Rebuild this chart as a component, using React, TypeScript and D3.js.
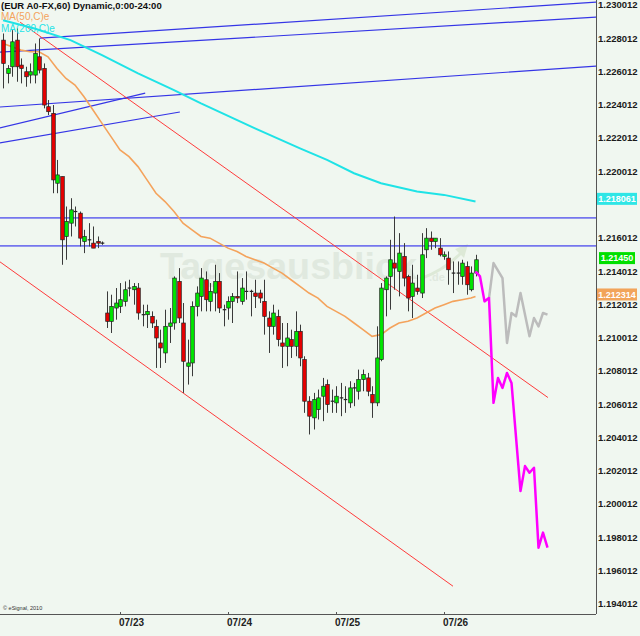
import React from 'react';
import * as d3 from 'd3';

const W = 640;
const H = 636;

// Hourly candles (index 0 = first visible bar)
const opens = [1.2279,1.2259,1.2263,1.2279,1.2264,1.2260,1.2258,1.2258,1.2269,1.2262,1.2239,1.2235,1.2193,1.2197,1.2161,1.2169,1.2176,1.2175,1.2158,1.2159,1.2157,1.2158,1.2157,1.2115,1.2110,1.2118,1.2119,1.2122,1.2130,1.2129,1.2130,1.2114,1.2114,1.2113,1.2107,1.2097,1.2091,1.2107,1.2109,1.2134,1.2109,1.2083,1.2085,1.2119,1.2125,1.2135,1.2122,1.2127,1.2134,1.2117,1.2118,1.2122,1.2125,1.2122,1.2128,1.2128,1.2127,1.2127,1.2122,1.2112,1.2107,1.2113,1.2097,1.2095,1.2099,1.2095,1.2104,1.2087,1.2062,1.2052,1.2057,1.2065,1.2072,1.2062,1.2061,1.2064,1.2063,1.2061,1.2070,1.2068,1.2075,1.2076,1.2066,1.2061,1.2087,1.2129,1.2137,1.2145,1.2140,1.2149,1.2137,1.2125,1.2130,1.2127,1.2153,1.2160,1.2158,1.2154,1.2149,1.2148,1.2139,1.2139,1.2137,1.2143,1.2129,1.2139];
const highs = [1.2283,1.2264,1.2285,1.2286,1.2268,1.2263,1.2265,1.2277,1.2280,1.2265,1.2243,1.2240,1.2207,1.2197,1.2179,1.2184,1.2179,1.2176,1.2165,1.2169,1.2167,1.2161,1.2158,1.2128,1.2126,1.2130,1.2133,1.2134,1.2135,1.2133,1.2133,1.2120,1.2120,1.2116,1.2111,1.2105,1.2117,1.2118,1.2137,1.2142,1.2121,1.2099,1.2122,1.2131,1.2142,1.2140,1.2133,1.2144,1.2139,1.2120,1.2125,1.2127,1.2140,1.2136,1.2140,1.2129,1.2135,1.2129,1.2135,1.2116,1.2120,1.2117,1.2109,1.2109,1.2105,1.2116,1.2108,1.2089,1.2065,1.2067,1.2069,1.2076,1.2075,1.2069,1.2071,1.2073,1.2071,1.2074,1.2073,1.2081,1.2081,1.2079,1.2071,1.2107,1.2133,1.2137,1.2159,1.2173,1.2163,1.2157,1.2138,1.2144,1.2138,1.2163,1.2166,1.2164,1.2160,1.2160,1.2152,1.2152,1.2146,1.2146,1.2147,1.2146,1.2143,1.2150];
const lows = [1.2250,1.2253,1.2257,1.2254,1.2253,1.2251,1.2253,1.2253,1.2259,1.2238,1.2234,1.2187,1.2187,1.2144,1.2147,1.2161,1.2167,1.2155,1.2151,1.2155,1.2154,1.2154,1.2156,1.2106,1.2103,1.2111,1.2115,1.2119,1.2125,1.2120,1.2111,1.2107,1.2106,1.2106,1.2082,1.2082,1.2085,1.2097,1.2105,1.2109,1.2067,1.2072,1.2077,1.2113,1.2116,1.2116,1.2116,1.2116,1.2115,1.2107,1.2111,1.2109,1.2121,1.2120,1.2123,1.2113,1.2118,1.2121,1.2102,1.2091,1.2102,1.2095,1.2082,1.2083,1.2088,1.2089,1.2083,1.2055,1.2042,1.2045,1.2051,1.2050,1.2055,1.2055,1.2055,1.2053,1.2055,1.2058,1.2059,1.2063,1.2068,1.2065,1.2052,1.2059,1.2086,1.2113,1.2117,1.2129,1.2125,1.2131,1.2116,1.2112,1.2126,1.2124,1.2148,1.2153,1.2154,1.2149,1.2147,1.2132,1.2127,1.2132,1.2132,1.2126,1.2128,1.2137];
const closes = [1.2265,1.2262,1.2278,1.2263,1.2262,1.2257,1.2260,1.2271,1.2261,1.2240,1.2236,1.2195,1.2198,1.2159,1.2170,1.2177,1.2176,1.2160,1.2161,1.2159,1.2154,1.2157,1.2157,1.2110,1.2119,1.2121,1.2123,1.2129,1.2130,1.2131,1.2115,1.2114,1.2116,1.2109,1.2100,1.2094,1.2107,1.2109,1.2136,1.2112,1.2086,1.2085,1.2119,1.2127,1.2136,1.2123,1.2128,1.2134,1.2118,1.2117,1.2122,1.2125,1.2124,1.2130,1.2128,1.2128,1.2125,1.2124,1.2113,1.2107,1.2115,1.2099,1.2095,1.2100,1.2095,1.2104,1.2088,1.2062,1.2053,1.2063,1.2064,1.2071,1.2060,1.2062,1.2065,1.2064,1.2063,1.2070,1.2070,1.2075,1.2078,1.2068,1.2061,1.2088,1.2130,1.2136,1.2147,1.2142,1.2151,1.2136,1.2124,1.2133,1.2128,1.2150,1.2160,1.2158,1.2160,1.2150,1.2150,1.2141,1.2139,1.2139,1.2145,1.2132,1.2139,1.2147];

// Moving averages (sampled bars)
const ma50Idx = [0,2,4,6,8,10,12,14,16,18,20,22,24,26,28,30,32,34,36,38,40,42,44,46,48,50,52,54,56,58,60,62,64,66,68,70,72,74,76,78,80,82,84,86,88,90,92,94,96,98,100,102,104,105];
const ma50Val = [1.2277,1.2275,1.2273,1.2272,1.2272,1.2269,1.2262,1.2256,1.2252,1.2245,1.2237,1.2229,1.2221,1.2213,1.2209,1.2203,1.2195,1.2187,1.2182,1.2176,1.2169,1.2165,1.2161,1.2160,1.2157,1.2154,1.2152,1.2149,1.2147,1.2145,1.2142,1.2139,1.2135,1.2131,1.2127,1.2124,1.2119,1.2116,1.2113,1.2109,1.2105,1.2101,1.2102,1.2106,1.2109,1.2110,1.2112,1.2115,1.2118,1.2120,1.2122,1.2123,1.2124,1.2125];
const ma200Idx = [0,7,15,22,30,38,44,56,66,72,78,84,92,98,105];
const ma200Val = [1.2291,1.2286,1.2279,1.2270,1.2259,1.2249,1.2241,1.2226,1.2214,1.2207,1.2199,1.2193,1.2188,1.2186,1.2182];

// Projections
const magentaIdx = [105,106,107,108,109,110,111,112,113,115,116,117,118,119,120,121];
const magentaVal = [1.2140,1.2137,1.2122,1.2124,1.2061,1.2076,1.2070,1.2079,1.2073,1.2008,1.2023,1.2019,1.2022,1.1974,1.1983,1.1974];
const greyIdx = [108,109,111,112,113,114,115,117,118,119,120,121];
const greyVal = [1.2124,1.2145,1.2136,1.2097,1.2115,1.2113,1.2127,1.2101,1.2112,1.2107,1.2115,1.2114];

// Drawn trend lines: [idx1, price1, idx2, price2]
const blueSlanted = [
  [8.2, 1.22802, 131.8, 1.23018],
  [-0.7, 1.22718, 131.8, 1.22928],
  [-0.7, 1.22388, 131.8, 1.22634],
  [-0.7, 1.22262, 31.6, 1.22472],
  [-0.7, 1.22172, 39.3, 1.22358],
];
const blueHorizontal = [1.21722, 1.21554];
const redLines = [
  [3.8, 1.22898, 121.1, 1.20642],
  [-0.7, 1.21458, 100, 1.19508],
];

// 1.218012 is fully hidden behind the MA(200) value box in the reference
const yTicks = d3.range(0, 19).filter((k) => k !== 12).map((k) => 1.194012 + k * 0.002);
const dateIdx = [26, 50, 74, 98];
const dateLabels = ['07/23', '07/24', '07/25', '07/26'];

const markers = [
  { value: 1.218061, text: '1.218061', bg: '#2fe6e6' },
  { value: 1.2145, text: '1.21450', bg: '#00e000' },
  { value: 1.212314, text: '1.212314', bg: '#f2a45a' },
];

const FONT = '"Liberation Sans", Arial, sans-serif';

export default function App() {
  const x = d3.scaleLinear().domain([0, 130]).range([3, 588]);
  const y = d3.scaleLinear().domain([1.194012, 1.230012]).range([604, 5]);
  const plotR = 596;
  const plotB = 614;

  const line = d3
    .line<[number, number]>()
    .x((d) => x(d[0]))
    .y((d) => y(d[1]));

  const ma50 = line(ma50Idx.map((d, i) => [d, ma50Val[i]]));
  const ma200 = line(ma200Idx.map((d, i) => [d, ma200Val[i]]));
  const mag = line(magentaIdx.map((d, i) => [d, magentaVal[i]]));
  const grey = line(greyIdx.map((d, i) => [d, greyVal[i]]));

  const bw = 3.6;

  return (
    <svg
      width={W}
      height={H}
      style={{ position: 'absolute', left: 0, top: 0, fontFamily: FONT }}
    >
      <defs>
        <clipPath id="plot">
          <rect x={0} y={0} width={plotR} height={plotB} />
        </clipPath>
      </defs>
      <rect x={0} y={0} width={W} height={H} fill="#f0f7f0" />

      {/* watermark */}
      <g fill="#e0e9df">
        <text x={160} y={279} fontSize={37} fontWeight="bold" textLength={257} lengthAdjust="spacingAndGlyphs">
          Tagesausblick
        </text>
        <text x={429} y={281} fontSize={11} fontWeight="bold">.de</text>
      </g>
      <path d="M420,279 Q445,270 462,252" fill="none" stroke="#dde9d7" strokeWidth={3} />
      <polygon points="468,244 455,249 464,258" fill="#dde9d7" />

      <g clipPath="url(#plot)">
        {blueHorizontal.map((v, i) => (
          <line key={'bh' + i} x1={0} x2={plotR} y1={y(v)} y2={y(v)} stroke="#6060ee" strokeWidth={1.8} opacity={0.85} />
        ))}
        {blueSlanted.map((l, i) => (
          <line key={'bs' + i} x1={x(l[0])} y1={y(l[1])} x2={x(l[2])} y2={y(l[3])} stroke="#3535e6" strokeWidth={1.2} />
        ))}
        {redLines.map((l, i) => (
          <line key={'r' + i} x1={x(l[0])} y1={y(l[1])} x2={x(l[2])} y2={y(l[3])} stroke="#ff3b3b" strokeWidth={1} />
        ))}
        <path d={ma200 || ''} fill="none" stroke="#1fe3e6" strokeWidth={2} />
        <path d={ma50 || ''} fill="none" stroke="#f4a35c" strokeWidth={1.6} />

        {opens.map((o, i) => {
          const c = closes[i];
          const cx = Math.round(x(i)) + 0.5;
          const top = y(Math.max(o, c));
          const bot = y(Math.min(o, c));
          const fill = c > o ? '#00e600' : c < o ? '#e60000' : 'none';
          return (
            <g key={'c' + i}>
              <line x1={cx} x2={cx} y1={y(highs[i])} y2={y(lows[i])} stroke="#3a3a3a" strokeWidth={1} />
              {c === o ? (
                <line x1={cx - bw / 2} x2={cx + bw / 2} y1={top} y2={top} stroke="#222" strokeWidth={1.2} />
              ) : (
                <rect x={cx - bw / 2} y={top} width={bw} height={Math.max(1, bot - top)} fill={fill} stroke="#222" strokeWidth={0.7} />
              )}
            </g>
          );
        })}

        <path d={grey || ''} fill="none" stroke="#bcbcbc" strokeWidth={2.5} strokeLinejoin="round" />
        <path d={mag || ''} fill="none" stroke="#ff00ff" strokeWidth={2.5} strokeLinejoin="round" />
      </g>

      {/* frame */}
      <line x1={plotR + 0.5} x2={plotR + 0.5} y1={0} y2={plotB} stroke="#555" strokeWidth={1} />
      <line x1={0} x2={plotR} y1={plotB + 0.5} y2={plotB + 0.5} stroke="#555" strokeWidth={1} />

      {/* y axis labels */}
      {yTicks.map((v, i) => (
        <text key={'yt' + i} x={598} y={y(v)} dy="0.35em" fontSize={9.5} fontWeight="bold" fill="#1a1a1a">
          {v.toFixed(6)}
        </text>
      ))}
      {markers.map((m, i) => {
        const cy = y(m.value) - 5;
        const w = m.text.length > 7 ? 40 : 36;
        const bx = m.text.length > 7 ? 597 : 599;
        return (
          <g key={'m' + i}>
            <rect x={bx} y={cy - 6} width={w} height={12} fill={m.bg} />
            <text x={bx + w / 2} y={cy} dy="0.35em" textAnchor="middle" fontSize={9} fontWeight="bold" fill="#ffffff">
              {m.text}
            </text>
          </g>
        );
      })}

      {/* date axis */}
      {dateIdx.map((d, i) => (
        <g key={'d' + i}>
          <line x1={Math.round(x(d)) + 0.5} x2={Math.round(x(d)) + 0.5} y1={plotB - 2} y2={plotB} stroke="#555" />
          <text x={x(d) - 1} y={626} fontSize={10} fontWeight="bold" fill="#222">
            {dateLabels[i]}
          </text>
        </g>
      ))}
      <text x={3} y={610} fontSize={5.5} fill="#333">© eSignal, 2010</text>

      {/* legend */}
      <text x={1} y={9} fontSize={9.5} fontWeight="bold" fill="#111">(EUR A0-FX,60) Dynamic,0:00-24:00</text>
      <text x={1} y={20} fontSize={10} fill="#f4a35c">MA(50,C)e</text>
      <text x={1} y={32} fontSize={10} fill="#1fe3e6">MA(200,C)e</text>
    </svg>
  );
}
